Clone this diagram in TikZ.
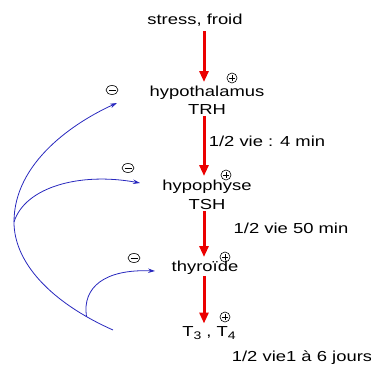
\documentclass[tikz,border=0pt]{standalone}
\usepackage{fontspec}
\setmainfont[FakeStretch=1.27]{Liberation Sans}
\usetikzlibrary{arrows.meta,shapes.geometric}
\definecolor{myred}{RGB}{235,0,0}
\definecolor{myblue}{RGB}{40,40,190}
\begin{document}
\begin{tikzpicture}[x=1pt,y=1pt,
 lbl/.style={font=\fontsize{14.5}{16}\selectfont, inner sep=1pt},
 redarr/.style={draw=myred, line width=3pt, -{Triangle[length=11pt,width=9pt]}},
 bluearr/.style={draw=myblue, line width=0.8pt, -{Stealth[length=7pt,width=4.5pt]}},
 plussign/.style={circle, draw, line width=0.6pt, minimum size=10pt, inner sep=0pt,
   path picture={\draw[line width=0.6pt] ([xshift=-3pt]path picture bounding box.center) -- ([xshift=3pt]path picture bounding box.center) ([yshift=-3pt]path picture bounding box.center) -- ([yshift=3pt]path picture bounding box.center);}},
 minussign/.style={ellipse, draw, line width=0.6pt, minimum width=12pt, minimum height=9pt, inner sep=0pt,
   path picture={\draw[line width=0.6pt] ([xshift=-3.5pt]path picture bounding box.center) -- ([xshift=3.5pt]path picture bounding box.center);}},
]
\useasboundingbox (0,0) rectangle (371,372);
\coordinate (axis) at (204,0);
% labels
\node[lbl] (stress) at (195,352) {stress, froid};
\node[lbl] (hypo) at (207,279) {hypothalamus};
\node[lbl] (trh) at (207,262) {TRH};
\node[lbl] (half1) at (267,231) {1/2 vie : 4 min};
\node[lbl] (hypoph) at (207,185) {hypophyse};
\node[lbl] (tsh) at (207,167) {TSH};
\node[lbl] (half2) at (291,144) {1/2 vie 50 min};
\node[lbl] (thyr) at (205,104) {thyroïde};
\node[lbl] (t34) at (209,39) {T\raisebox{-2.5pt}{\fontsize{11}{12}\selectfont 3} , T\raisebox{-2.5pt}{\fontsize{11}{12}\selectfont 4}};
\node[lbl] (half3) at (302,14) {1/2 vie1 à 6 jours};
% signs
\node[plussign] (p1) at (232,294) {};
\node[plussign] (p2) at (226,197) {};
\node[plussign] (p3) at (225,115) {};
\node[plussign] (p4) at (225,55) {};
\node[minussign] (m1) at (112,282) {};
\node[minussign] (m2) at (128,204) {};
\node[minussign] (m3) at (134,114) {};
% red arrows
\draw[redarr] ([yshift=-4pt]stress.south -| axis) -- ([yshift=3pt]hypo.north -| axis);
\draw[redarr] (trh.south -| axis) -- ([yshift=3pt]hypoph.north -| axis);
\draw[redarr] (tsh.south -| axis) -- ([yshift=3pt]thyr.north -| axis);
\draw[redarr] (thyr.south -| axis) -- ([yshift=2pt]t34.north -| axis);
% blue feedback curves
\coordinate (b0) at (113,42);
\coordinate (b1) at (14,150);
\coordinate (t1) at (117,269);
\coordinate (t2) at (140,189);
\coordinate (t3) at (155,101);
\draw[bluearr] (b0) .. controls (50,70) and (14,110) .. (b1) coordinate[pos=0.15] (b3)
   .. controls (14,210) and (75,250) .. (t1);
\draw[bluearr] (b1) .. controls (25,185) and (80,200) .. (t2);
\draw[bluearr] (b3) .. controls (82,85) and (105,103) .. (t3);
\end{tikzpicture}
\end{document}
